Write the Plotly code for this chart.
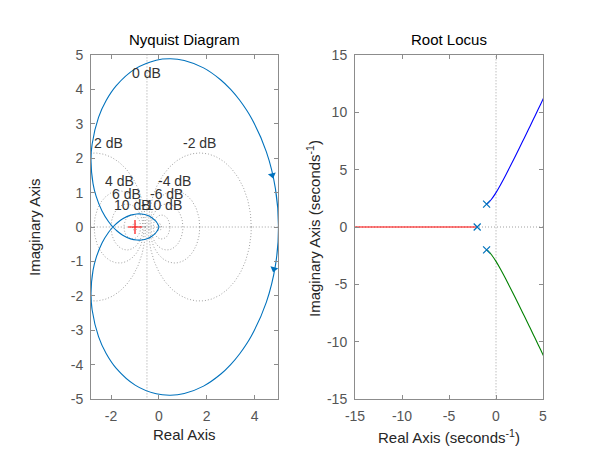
import numpy as np
import plotly.graph_objects as go

# ---------------- data ----------------
# Nyquist curve, positive-frequency branch (real, imag); negative branch is its mirror
nyq_re = [5.0, 4.872, 4.494, 3.871, 3.379, 3.0, 2.578, 1.866, 1.061, 0.483, -0.113,
          -0.995, -1.782, -2.206, -2.525, -2.792, -2.839, -2.755, -2.627, -2.379,
          -2.104, -1.923, -1.750, -1.513, -1.182, -0.925, -0.730, -0.467, -0.310,
          -0.152, -0.082, -0.048, -0.020, -0.004, -0.0002, 0.0]
nyq_im = [0.0, -1.117, -2.184, -3.161, -3.684, -4.0, -4.282, -4.626, -4.840, -4.891,
          -4.850, -4.597, -4.110, -3.677, -3.186, -2.413, -1.919, -1.263, -0.898,
          -0.464, -0.152, 0.0, 0.116, 0.238, 0.345, 0.380, 0.378, 0.333, 0.276,
          0.183, 0.124, 0.087, 0.046, 0.014, 0.002, 0.0]
# direction arrows on the Nyquist curve
arrow_re = [4.74, 4.81]
arrow_im = [1.51, -1.22]
arrow_angle = [-14, 14]
# critical point
crit_re = [-1]
crit_im = [0]
# M-circle grid levels (dB) and the ones that carry a label
grid_db = [-20, -10, -6, -4, -2, 2, 4, 6, 10, 20]
label_db = [-10, -6, -4, -2, 2, 4, 6, 10]

# Root locus: upper complex branch (real, imag), real branch, open-loop poles
rl_up_re = [-1.0, -0.95, -0.875, -0.75, -0.5, 0.0, 0.5, 1.0, 1.5, 2.0, 2.5, 3.0,
            3.5, 4.0, 4.5, 5.0, 5.5]
rl_up_im = [2.0, 2.027, 2.073, 2.165, 2.398, 3.0, 3.708, 4.472, 5.268, 6.083,
            6.910, 7.746, 8.588, 9.434, 10.283, 11.136, 11.99]
rl_real_re = [-2.0, -16.0]
rl_real_im = [0.0, 0.0]
pole_re = [-2, -1, -1]
pole_im = [0, 2, -2]

nyq_xticks = [-2, 0, 2, 4]
nyq_yticks = [-5, -4, -3, -2, -1, 0, 1, 2, 3, 4, 5]
rl_xticks = [-15, -10, -5, 0, 5]
rl_yticks = [-15, -10, -5, 0, 5, 10, 15]

# ---------------- styling ----------------
FONT = "Liberation Sans, Arial, Helvetica, sans-serif"
MBLUE = "#0072BD"
GRID = "rgb(160,160,160)"
GDASH = "1px,2px"
TICKC = "#555555"
XR1 = [-2.84, 4.98]
YR1 = [-5, 5]

fig = go.Figure()

# M-circles (dotted grid)
th = np.linspace(0, 2 * np.pi, 400)
for db in grid_db:
    M = 10 ** (db / 20)
    c = -M ** 2 / (M ** 2 - 1)
    r = abs(M / (M ** 2 - 1))
    fig.add_trace(go.Scatter(x=c + r * np.cos(th), y=r * np.sin(th), mode="lines",
                             line=dict(color=GRID, width=1, dash=GDASH),
                             hoverinfo="skip", showlegend=False, xaxis="x", yaxis="y"))
# 0 dB line and real axis
fig.add_trace(go.Scatter(x=[-0.5, -0.5], y=[-6, 6], mode="lines",
                         line=dict(color=GRID, width=1, dash=GDASH),
                         hoverinfo="skip", showlegend=False, xaxis="x", yaxis="y"))
fig.add_trace(go.Scatter(x=[-10, 10], y=[0, 0], mode="lines",
                         line=dict(color=GRID, width=1, dash=GDASH),
                         hoverinfo="skip", showlegend=False, xaxis="x", yaxis="y"))

# Nyquist curve (negative then positive frequencies)
full_re = list(reversed(nyq_re)) + nyq_re[1:]
full_im = [-v for v in reversed(nyq_im)] + nyq_im[1:]
fig.add_trace(go.Scatter(x=full_re, y=full_im, mode="lines",
                         line=dict(color=MBLUE, width=1.1, shape="spline", smoothing=0.8),
                         showlegend=False, xaxis="x", yaxis="y"))
fig.add_trace(go.Scatter(x=arrow_re, y=arrow_im, mode="markers",
                         marker=dict(symbol="triangle-down", size=7, color=MBLUE,
                                     angle=arrow_angle, line=dict(width=0)),
                         showlegend=False, xaxis="x", yaxis="y"))
fig.add_trace(go.Scatter(x=crit_re, y=crit_im, mode="markers",
                         marker=dict(symbol="cross-thin", size=10,
                                     line=dict(color="red", width=1.1)),
                         showlegend=False, xaxis="x", yaxis="y"))

# Root locus
fig.add_trace(go.Scatter(x=[0, 0], y=[-20, 20], mode="lines",
                         line=dict(color=GRID, width=1, dash=GDASH),
                         hoverinfo="skip", showlegend=False, xaxis="x2", yaxis="y2"))
fig.add_trace(go.Scatter(x=[-20, 10], y=[0, 0], mode="lines",
                         line=dict(color=GRID, width=1, dash=GDASH),
                         hoverinfo="skip", showlegend=False, xaxis="x2", yaxis="y2"))
fig.add_trace(go.Scatter(x=rl_real_re, y=rl_real_im, mode="lines",
                         line=dict(color="#FF0000", width=1.1),
                         showlegend=False, xaxis="x2", yaxis="y2"))
fig.add_trace(go.Scatter(x=rl_up_re, y=rl_up_im, mode="lines",
                         line=dict(color="#0000FF", width=1.1, shape="spline"),
                         showlegend=False, xaxis="x2", yaxis="y2"))
fig.add_trace(go.Scatter(x=rl_up_re, y=[-v for v in rl_up_im], mode="lines",
                         line=dict(color="#008000", width=1.1, shape="spline"),
                         showlegend=False, xaxis="x2", yaxis="y2"))
fig.add_trace(go.Scatter(x=pole_re, y=pole_im, mode="markers",
                         marker=dict(symbol="x-thin", size=7,
                                     line=dict(color=MBLUE, width=1.2)),
                         showlegend=False, xaxis="x2", yaxis="y2"))

ax_common = dict(showline=True, linecolor="#8c8c8c", linewidth=1, mirror="ticks",
                 ticks="inside", ticklen=4, tickcolor="#8c8c8c", showgrid=False,
                 zeroline=False, automargin=False, ticklabelstandoff=4,
                 tickfont=dict(family=FONT, size=14, color=TICKC))

def ttext(vals):
    return [str(v) for v in vals]

ann = []
# dB labels
for db in label_db:
    M = 10 ** (db / 20)
    c = -M ** 2 / (M ** 2 - 1)
    r = abs(M / (M ** 2 - 1))
    ann.append(dict(x=max(c, -2.1), y=r, xref="x", yref="y", text=f"{db} dB",
                    showarrow=False, xanchor="center", yanchor="bottom",
                    font=dict(family=FONT, size=14, color="#333333")))
ann.append(dict(x=-0.5, y=4.48, xref="x", yref="y", text="0 dB", showarrow=False,
                xanchor="center", yanchor="middle",
                font=dict(family=FONT, size=14, color="#333333")))

def txt(x, y, s, size=15, angle=0, color="#000000"):
    ann.append(dict(x=x / 600, y=1 - y / 450, xref="paper", yref="paper", text=s,
                    showarrow=False, xanchor="center", yanchor="middle", textangle=angle,
                    font=dict(family=FONT, size=size, color=color)))

txt(184.5, 39, "Nyquist Diagram")
txt(449, 39, "Root Locus")
txt(184.5, 434, "Real Axis", size=15, color="#262626")
txt(449, 436, "Real Axis (seconds<sup>-1</sup>)", size=15, color="#262626")
txt(34, 227, "Imaginary Axis", size=15, angle=-90, color="#262626")
txt(314, 229, "Imaginary Axis (seconds<sup>-1</sup>)", size=15, angle=-90, color="#262626")

fig.update_layout(
    template="none",
    width=600, height=450, margin=dict(l=0, r=0, t=0, b=0, autoexpand=False),
    paper_bgcolor="white", plot_bgcolor="white", showlegend=False,
    xaxis=dict(domain=[91 / 600, 278 / 600], range=XR1, tickvals=nyq_xticks,
               ticktext=ttext(nyq_xticks), anchor="y", **ax_common),
    yaxis=dict(domain=[1 - 399 / 450, 1 - 55 / 450], range=YR1, tickvals=nyq_yticks,
               ticktext=ttext(nyq_yticks), anchor="x", **ax_common),
    xaxis2=dict(domain=[355 / 600, 543 / 600], range=[-15, 5], tickvals=rl_xticks,
                ticktext=ttext(rl_xticks), anchor="y2", **ax_common),
    yaxis2=dict(domain=[1 - 399 / 450, 1 - 55 / 450], range=[-15, 15], tickvals=rl_yticks,
                ticktext=ttext(rl_yticks), anchor="x2", **ax_common),
    annotations=ann,
)

fig.write_html("out.html", config={"displayModeBar": False},
               post_script="document.body.style.margin='0';document.body.style.padding='0';")
